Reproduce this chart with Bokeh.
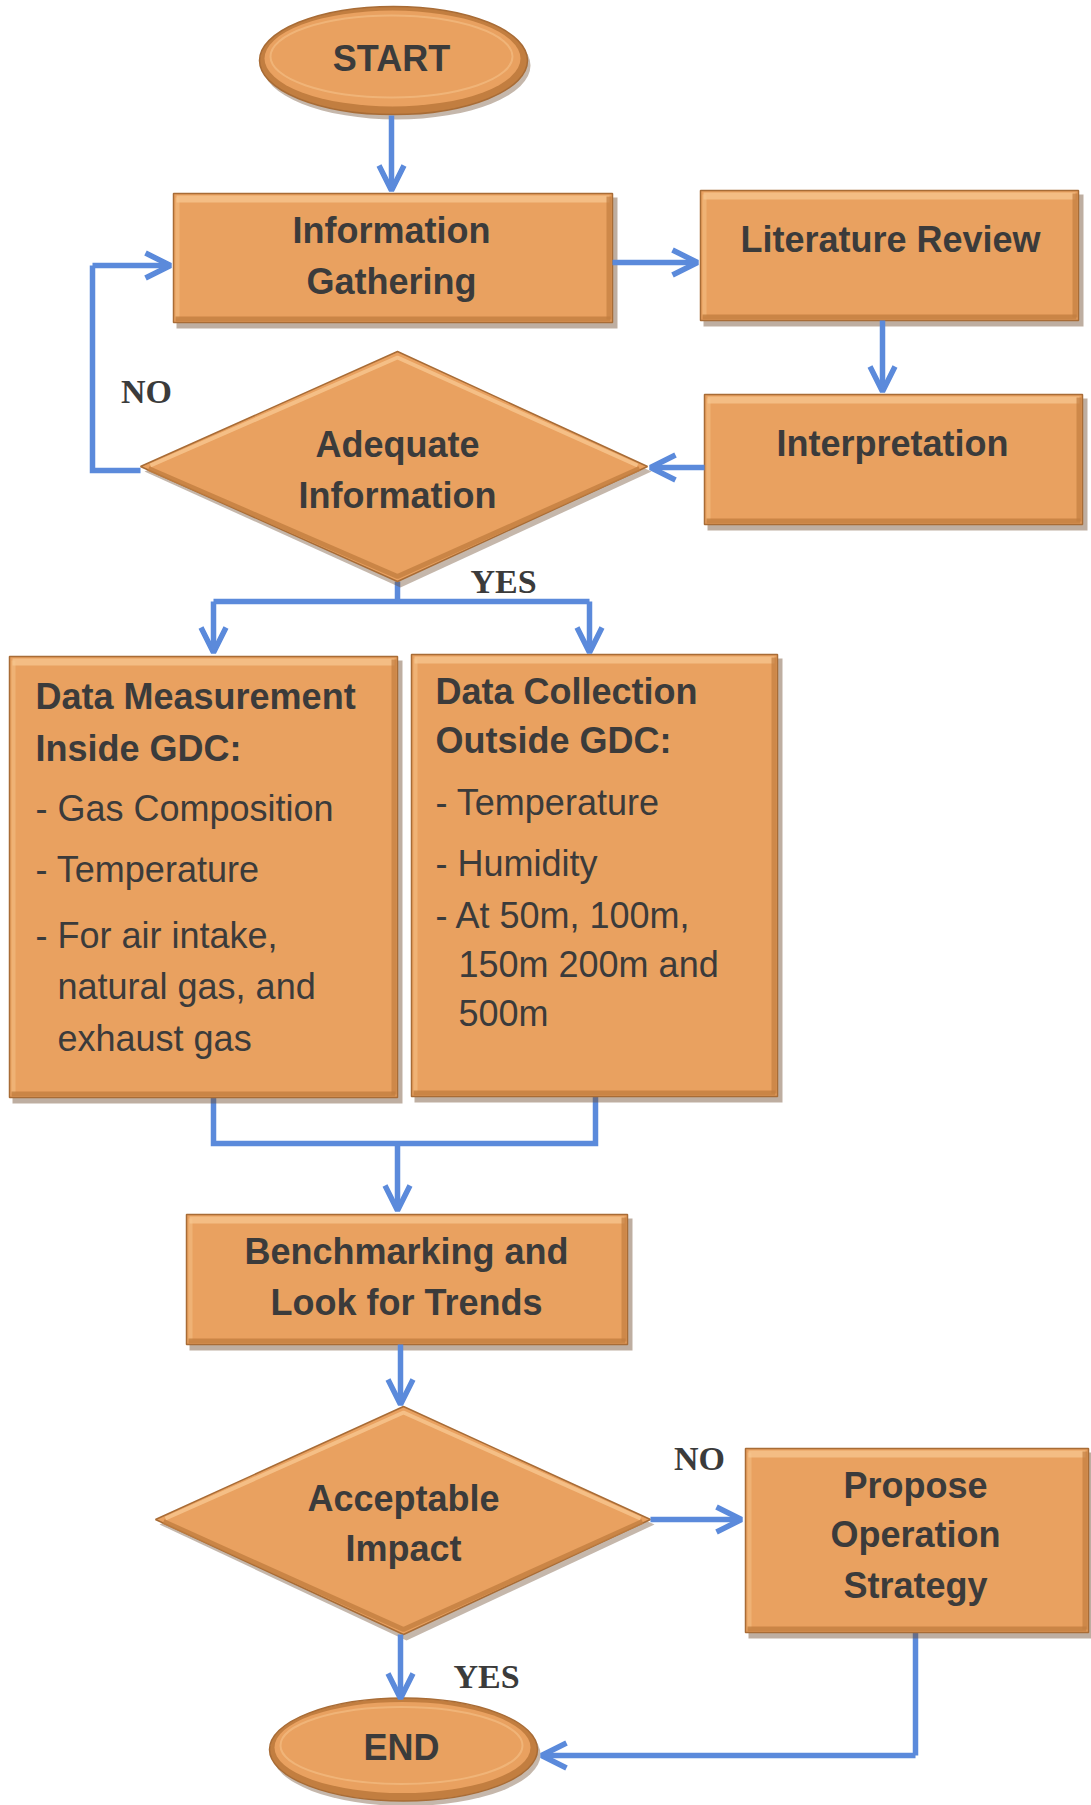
from bokeh.plotting import figure
from bokeh.models import Range1d, Arrow, OpenHead
from bokeh.core.properties import value
from bokeh.embed import file_html
from bokeh.resources import INLINE

# ---------------- content ----------------
terminal_texts = ["START", "END"]
process_texts = [
    ["Information", "Gathering"],
    ["Literature Review"],
    ["Interpretation"],
    ["Benchmarking and", "Look for Trends"],
    ["Propose", "Operation", "Strategy"],
]
decision_texts = [
    ["Adequate", "Information"],
    ["Acceptable", "Impact"],
]
inside_head = ["Data Measurement", "Inside GDC:"]
inside_items = ["- Gas Composition", "- Temperature", "- For air intake,", "natural gas, and", "exhaust gas"]
outside_head = ["Data Collection", "Outside GDC:"]
outside_items = ["- Temperature", "- Humidity", "- At 50m, 100m,", "150m 200m and", "500m"]
branch_labels = ["NO", "YES", "NO", "YES"]

# ---------------- layout (page pixels) ----------------
terminal_geo = [(393, 60, 268, 108), (403, 1749, 268, 103)]          # cx, cy, w, h
terminal_text_y = [58, 1747]
process_geo = [(173, 193, 612, 322), (700, 190, 1078, 320), (704, 394, 1082, 524),
               (186, 1214, 627, 1344), (745, 1448, 1088, 1632)]      # x0, y0, x1, y1
process_text_x = [391, 890, 892, 406, 915]
process_text_y = [[230, 281], [239], [443], [1251, 1302], [1485, 1534, 1585]]
decision_geo = [(397, 466, 140, 647, 351, 581), (403, 1519, 155, 650, 1406, 1634)]  # cx, cy, l, r, t, b
decision_text_y = [[444, 495], [1498, 1548]]
list_geo = [(9, 656, 397, 1097), (411, 654, 777, 1096)]
inside_y = [696, 748, 808, 869, 935, 986, 1038]
inside_x = [35, 35, 35, 35, 35, 57, 57]
outside_y = [691, 740, 802, 863, 915, 964, 1013]
outside_x = [435, 435, 435, 435, 435, 458, 458]
label_pos = [(146, 391), (503, 581), (699, 1458), (486, 1676)]

FILL = "#E9A160"
EDGE = "#A86C36"
SHADOW = "#6e4c2e"
HILITE = "#F7C790"
DARK = "#C27E40"
TXT = "#3b3b3b"
BLUE = "#5B8ADB"

W, H = 1091, 1805
p = figure(width=W, height=H, output_backend="svg", toolbar_location=None,
           x_range=Range1d(0, W), y_range=Range1d(H, 0),
           min_border=0, outline_line_color=None,
           background_fill_color="white", border_fill_color="white")
p.axis.visible = False
p.grid.visible = False

# ---------------- connectors ----------------
lw = 5.5
def seg(xs, ys):
    p.line(xs, ys, line_color=BLUE, line_width=lw, line_cap="butt", line_join="miter")

def arrow(x0, y0, x1, y1):
    p.add_layout(Arrow(end=OpenHead(size=25, line_color=BLUE, line_width=lw),
                       x_start=x0, y_start=y0, x_end=x1, y_end=y1,
                       line_color=BLUE, line_width=lw))

arrow(391, 115, 391, 190)
arrow(612, 262, 697, 262)
arrow(882, 320, 882, 391)
arrow(704, 467, 650, 467)
seg([140, 92, 92], [470, 470, 265])
arrow(92, 265, 170, 265)
seg([397, 397], [581, 601])
seg([213, 589], [601, 601])
arrow(213, 601, 213, 652)
arrow(589, 601, 589, 652)
seg([213, 213, 595, 595], [1097, 1143, 1143, 1096])
arrow(397, 1143, 397, 1210)
arrow(400, 1344, 400, 1404)
arrow(650, 1519, 741, 1519)
arrow(400, 1634, 400, 1698)
seg([915, 915], [1632, 1755])
arrow(915, 1755, 541, 1755)

# ---------------- shapes ----------------
def box(x0, y0, x1, y1):
    p.quad(left=[x0 + 3], right=[x1 + 5], top=[y0 + 4], bottom=[y1 + 6],
           fill_color=SHADOW, fill_alpha=0.45, line_color=None)
    p.quad(left=[x0], right=[x1], top=[y0], bottom=[y1],
           fill_color=FILL, line_color=EDGE, line_width=1.5)
    p.quad(left=[x0 + 3], right=[x1 - 3], top=[y0 + 2], bottom=[y0 + 9],
           fill_color=HILITE, fill_alpha=0.75, line_color=None)
    p.quad(left=[x0 + 2], right=[x0 + 6], top=[y0 + 4], bottom=[y1 - 4],
           fill_color=HILITE, fill_alpha=0.45, line_color=None)
    p.quad(left=[x0 + 2], right=[x1 - 2], top=[y1 - 6], bottom=[y1 - 1],
           fill_color=DARK, fill_alpha=0.8, line_color=None)
    p.quad(left=[x1 - 6], right=[x1 - 1], top=[y0 + 3], bottom=[y1 - 3],
           fill_color=DARK, fill_alpha=0.7, line_color=None)

for g in process_geo + list_geo:
    box(*g)

for (cx, cy, w, h) in terminal_geo:
    p.ellipse(x=[cx + 3], y=[cy + 5], width=[w], height=[h],
              fill_color=SHADOW, fill_alpha=0.4, line_color=None)
    p.ellipse(x=[cx], y=[cy], width=[w], height=[h],
              fill_color=DARK, line_color=EDGE, line_width=1.5)
    p.ellipse(x=[cx - 1], y=[cy - 2], width=[w - 12], height=[h - 12],
              fill_color=FILL, line_color=None)
    p.ellipse(x=[cx - 2], y=[cy - 4], width=[w - 26], height=[h - 26],
              fill_color=None, line_color=HILITE, line_alpha=0.5, line_width=2)

for (cx, cy, l, r, t, b) in decision_geo:
    p.patch([cx + 3, r + 4, cx + 3, l + 4], [t + 5, cy + 5, b + 6, cy + 5],
            fill_color=SHADOW, fill_alpha=0.4, line_color=None)
    p.patch([cx, r, cx, l], [t, cy, b, cy], fill_color=FILL, line_color=EDGE, line_width=1.5)
    p.line([l + 10, cx, r - 10], [cy - 1, t + 6, cy - 1], line_color=HILITE, line_width=4, line_alpha=0.8)
    p.line([l + 8, cx, r - 8], [cy + 2, b - 5, cy + 2], line_color=DARK, line_width=5, line_alpha=0.8)

# ---------------- text ----------------
FONT = value("Liberation Sans")
def txt(x, y, s, bold=True, align="center", size="36px", font=FONT):
    p.text(x=[x], y=[y], text=[s], text_font=font, text_font_size=size,
           text_font_style="bold" if bold else "normal", text_color=TXT,
           text_align=align, text_baseline="middle")

for (cx, cy, w, h), s, ty in zip(terminal_geo, terminal_texts, terminal_text_y):
    txt(cx - 2, ty, s)
for lines, tx, tys in zip(process_texts, process_text_x, process_text_y):
    for s, ty in zip(lines, tys):
        txt(tx, ty, s)
for lines, (cx, *_), tys in zip(decision_texts, decision_geo, decision_text_y):
    for s, ty in zip(lines, tys):
        txt(cx, ty, s)

for i, s in enumerate(inside_head + inside_items):
    txt(inside_x[i], inside_y[i], s, bold=i < 2, align="left")
for i, s in enumerate(outside_head + outside_items):
    txt(outside_x[i], outside_y[i], s, bold=i < 2, align="left")

for s, (lx, ly) in zip(branch_labels, label_pos):
    txt(lx, ly, s, size="34px", font=value("Liberation Serif"))

open("out.html", "w").write(file_html(p, INLINE))
